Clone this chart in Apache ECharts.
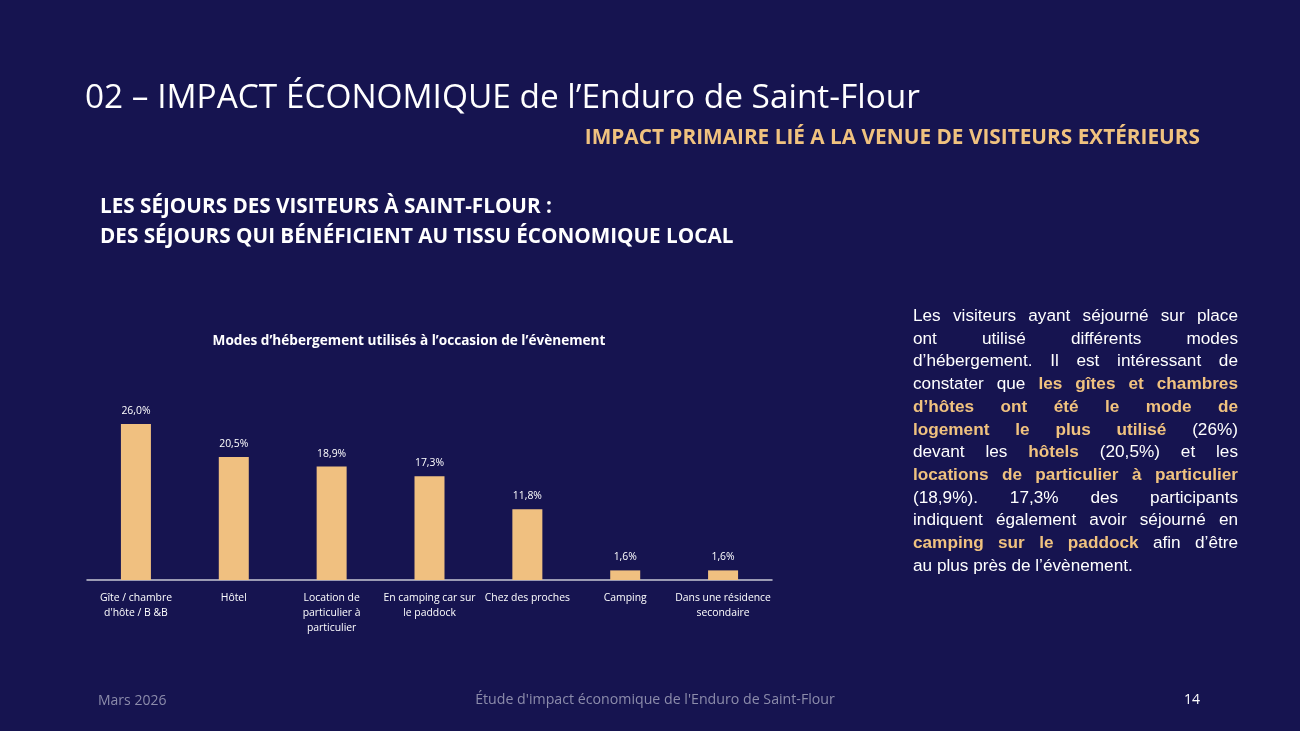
<!DOCTYPE html>
<html><head><meta charset="utf-8">
<script src="https://cdn.jsdelivr.net/npm/echarts@6/dist/echarts.min.js"></script>
<style>
html,body{margin:0;padding:0;background:#161450;}
#c{position:absolute;left:0;top:0;width:1300px;height:731px;}
#txt{position:absolute;left:913px;top:304px;width:325px;font-family:'Liberation Sans',Arial,sans-serif;font-size:17.2px;line-height:22.7px;color:#ffffff;}
#txt div{text-align:justify;text-align-last:justify;white-space:nowrap;}
#txt div.last{text-align-last:left;}
#txt b{color:#F0C27F;}
</style></head>
<body>
<div id="c"></div>
<div id="txt">
<div>Les visiteurs ayant séjourné sur place</div>
<div>ont utilisé différents modes</div>
<div>d’hébergement. Il est intéressant de</div>
<div>constater que <b>les gîtes et chambres</b></div>
<div><b>d’hôtes ont été le mode de</b></div>
<div><b>logement le plus utilisé</b> (26%)</div>
<div>devant les <b>hôtels</b> (20,5%) et les</div>
<div><b>locations de particulier à particulier</b></div>
<div>(18,9%). 17,3% des participants</div>
<div>indiquent également avoir séjourné en</div>
<div><b>camping sur le paddock</b> afin d’être</div>
<div class="last">au plus près de l’évènement.</div>
</div>
<script>
const categories = ["Gîte / chambre\nd'hôte / B &B", "Hôtel", "Location de\nparticulier à\nparticulier", "En camping car sur\nle paddock", "Chez des proches", "Camping", "Dans une résidence\nsecondaire"];
const values = [26.0, 20.5, 18.9, 17.3, 11.8, 1.6, 1.6];

const headFont = "'Open Sans','Noto Sans',sans-serif";
const chartFont = "'Open Sans','Noto Sans',sans-serif";
const chart = echarts.init(document.getElementById('c'));
chart.setOption({
  backgroundColor: '#161450',
  title: [
    {text: '02 – IMPACT ÉCONOMIQUE de l’Enduro de Saint-Flour', left: 80, top: 77,
     textStyle: {color: '#ffffff', fontSize: 33.4, fontWeight: 'normal', fontFamily: headFont}},
    {text: 'IMPACT PRIMAIRE LIÉ A LA VENUE DE VISITEURS EXTÉRIEURS', right: 95, top: 123,
     textStyle: {color: '#F0C27F', fontSize: 20.8, fontWeight: 'bold', fontFamily: headFont}},
    {text: 'LES SÉJOURS DES VISITEURS À SAINT-FLOUR :\nDES SÉJOURS QUI BÉNÉFICIENT AU TISSU ÉCONOMIQUE LOCAL', left: 95, top: 187,
     textStyle: {color: '#ffffff', fontSize: 20.7, fontWeight: 'bold', lineHeight: 30, fontFamily: headFont}},
    {text: 'Modes d’hébergement utilisés à l’occasion de l’évènement', left: 404, textAlign: 'center', top: 329,
     textStyle: {color: '#ffffff', fontSize: 13.6, fontWeight: 'bold', fontFamily: chartFont}},
    {text: 'Mars 2026', left: 93, top: 689,
     textStyle: {color: '#8c8cab', fontSize: 14, fontWeight: 'normal', fontFamily: chartFont}},
    {text: "Étude d'impact économique de l'Enduro de Saint-Flour", left: 650, textAlign: 'center', top: 688,
     textStyle: {color: '#8c8cab', fontSize: 14.2, fontWeight: 'normal', fontFamily: chartFont}},
    {text: '14', left: 1195, textAlign: 'right', top: 688,
     textStyle: {color: '#ffffff', fontSize: 14, fontWeight: 'normal', fontFamily: chartFont}}
  ],
  grid: {left: 87, right: 528, top: 400, bottom: 151, containLabel: false},
  xAxis: {
    type: 'category', data: categories,
    axisLine: {lineStyle: {color: '#c8c8d4', width: 1.5}},
    axisTick: {show: false},
    axisLabel: {interval: 0, color: '#ffffff', fontSize: 10.4, lineHeight: 15, margin: 11, fontFamily: chartFont}
  },
  yAxis: {type: 'value', min: 0, max: 30, show: false, splitLine: {show: false}},
  series: [{
    type: 'bar', data: values, barWidth: 30,
    itemStyle: {color: '#F0C080'},
    label: {show: true, position: 'top', distance: 8, color: '#ffffff', fontSize: 10.4, fontFamily: chartFont,
      formatter: p => p.value.toFixed(1).replace('.', ',') + '%'}
  }]
});
</script>
</body></html>
